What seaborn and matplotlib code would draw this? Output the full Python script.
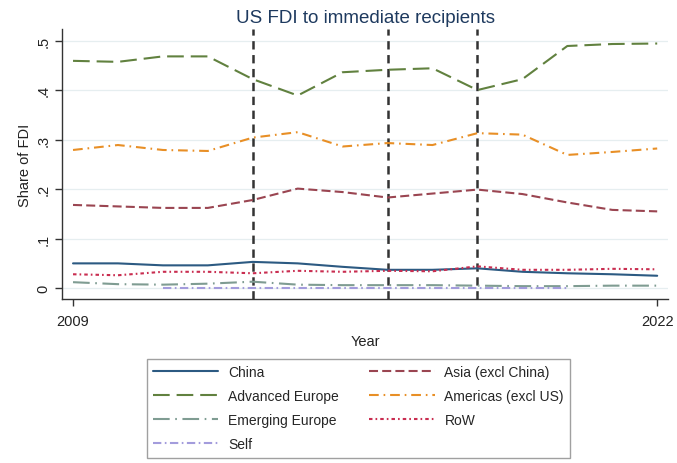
import numpy as np
import matplotlib
matplotlib.use("Agg")
import matplotlib.pyplot as plt
import seaborn as sns

# ─── Dados ───────────────────────────────────────────────
years = list(range(2009, 2023))

china      = [0.050, 0.050, 0.046, 0.046, 0.053, 0.050, 0.043, 0.037, 0.037, 0.040, 0.033, 0.030, 0.028, 0.025]
asia       = [0.168, 0.165, 0.162, 0.162, 0.178, 0.201, 0.194, 0.183, 0.191, 0.199, 0.190, 0.173, 0.158, 0.155]
adv_europe = [0.459, 0.457, 0.468, 0.468, 0.422, 0.389, 0.436, 0.441, 0.444, 0.400, 0.422, 0.489, 0.493, 0.494]
americas   = [0.279, 0.289, 0.279, 0.277, 0.304, 0.315, 0.286, 0.293, 0.289, 0.313, 0.310, 0.269, 0.275, 0.282]
em_europe  = [0.012, 0.008, 0.007, 0.009, 0.013, 0.007, 0.006, 0.006, 0.006, 0.005, 0.004, 0.004, 0.005, 0.005]
rest_world = [0.028, 0.026, 0.033, 0.033, 0.030, 0.035, 0.033, 0.035, 0.034, 0.044, 0.037, 0.037, 0.039, 0.038]
self_fdi   = [np.nan, np.nan, 0.001, 0.001, 0.001, 0.001, 0.001, 0.001, 0.001, 0.001, 0.001, 0.001, np.nan, np.nan]

event_years = [2013, 2016, 2018]
y_ticks = [0, 0.1, 0.2, 0.3, 0.4, 0.5]
y_tick_labels = ["0", ".1", ".2", ".3", ".4", ".5"]

# (nome, valores, cor, padrão de traço em pontos)
series = [
    ("China",              china,      "#2c5a82", "-"),
    ("Advanced Europe",    adv_europe, "#61813f", (0, (12, 5))),
    ("Emerging Europe",    em_europe,  "#7f9c92", (0, (12, 4, 1.2, 4))),
    ("Self",               self_fdi,   "#a39cdc", (0, (6, 2.5, 1.2, 2.5))),
    ("Asia (excl China)",  asia,       "#9a4551", (0, (6.5, 3))),
    ("Americas (excl US)", americas,   "#e88f26", (0, (7, 3.5, 1.2, 3.5))),
    ("RoW",                rest_world, "#c92d50", (0, (2.5, 2.2, 1.2, 2.2))),
]

# ─── Estilo ──────────────────────────────────────────────
sns.set_style("white")
plt.rcParams["font.family"] = ["Liberation Sans", "DejaVu Sans"]
plt.rcParams["lines.scale_dashes"] = False

fig = plt.figure(figsize=(6.77, 4.64), dpi=100)
ax = fig.add_axes([0.0916, 0.3534, 0.8954, 0.5816])

for x in event_years:
    ax.axvline(x, color="#333333", lw=1.8, ls=(0, (6, 4)), zorder=1)

handles = []
for nome, vals, cor, estilo in series:
    sns.lineplot(x=years, y=vals, ax=ax, color=cor, linewidth=1.5,
                 linestyle=estilo, label=nome, legend=False, zorder=3)
    handles.append(ax.lines[-1])

# ── Eixos ──
ax.set_xlim(2008.755, 2022.245)
ax.set_ylim(-0.022, 0.523)
ax.set_xticks([2009, 2022])
ax.set_yticks(y_ticks)
ax.set_yticklabels(y_tick_labels, rotation=90, va="center")
ax.tick_params(axis="both", direction="out", length=5, width=1, color="#333333",
               labelsize=10.5, labelcolor="#222222", left=True, bottom=True)
ax.tick_params(axis="x", pad=6)
ax.grid(axis="y", color="#e6eef0", lw=0.9)
ax.grid(axis="x", visible=False)

for lado in ["top", "right"]:
    ax.spines[lado].set_visible(False)
for lado in ["left", "bottom"]:
    ax.spines[lado].set_color("#333333")
    ax.spines[lado].set_linewidth(1)

ax.set_xlabel("Year", fontsize=10.5, color="#222222", labelpad=4)
ax.set_ylabel("Share of FDI", fontsize=10.5, color="#222222", labelpad=3)
ax.set_title("US FDI to immediate recipients", fontsize=13.5, color="#1e3a5f", pad=5)

fig.legend(handles=handles, labels=[s[0] for s in series], ncol=2,
           loc="upper left", bbox_to_anchor=(0.217, 0.224), borderaxespad=0,
           fontsize=10, frameon=True, fancybox=False, edgecolor="#888888",
           handlelength=4.7, handletextpad=0.7, columnspacing=2.2,
           labelspacing=0.72, borderpad=0.45)

plt.savefig("out.png", dpi=100)
